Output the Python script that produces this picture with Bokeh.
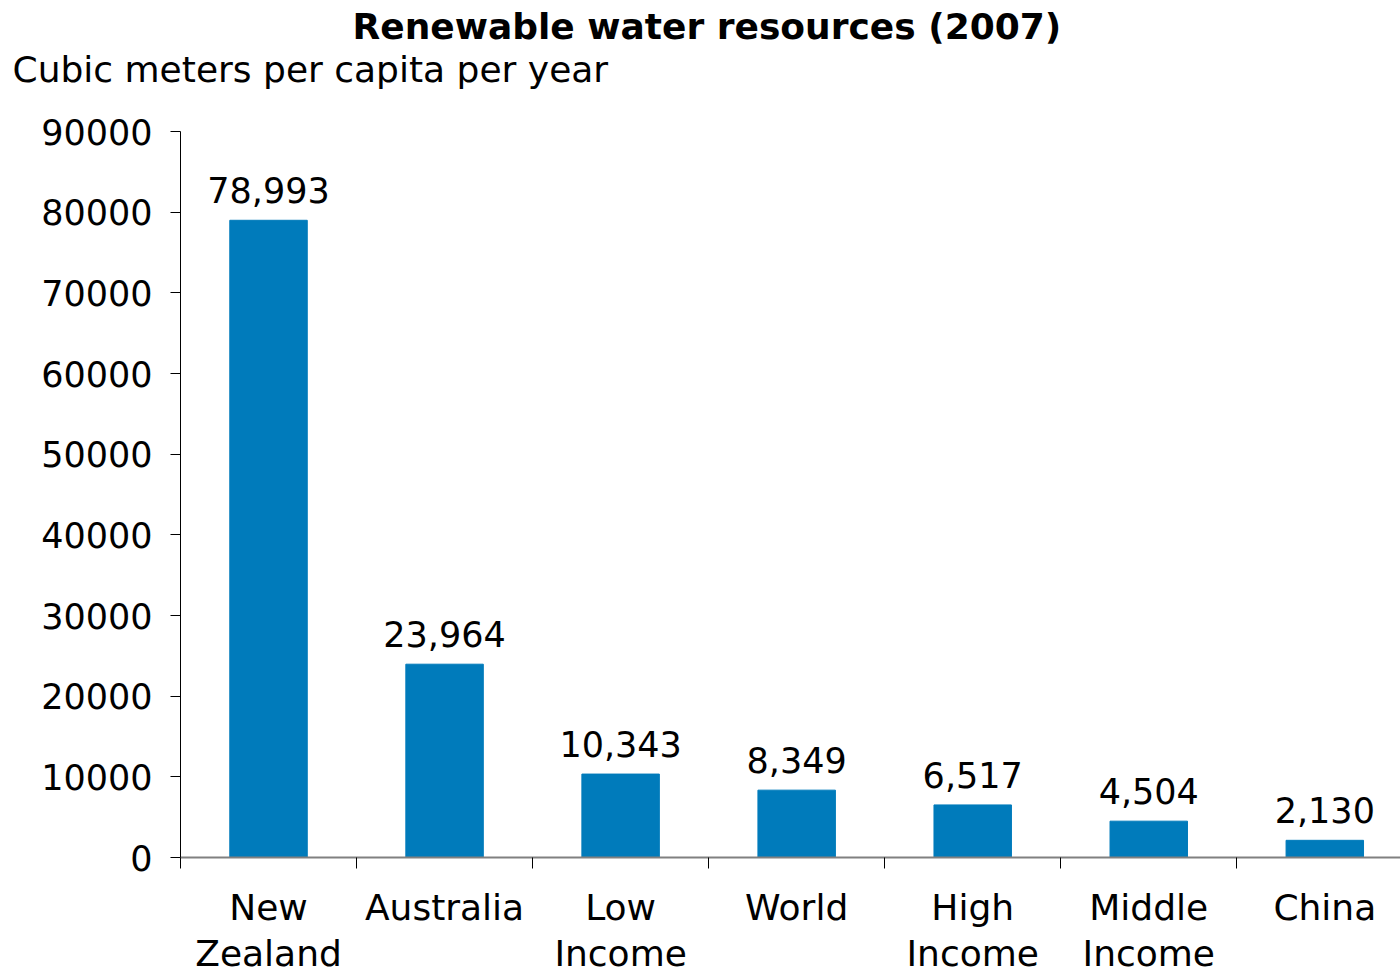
from bokeh.plotting import figure
from bokeh.models import Range1d, FixedTicker, LinearAxis, Title, ColumnDataSource, BasicTickFormatter
from bokeh.core.properties import value
from bokeh.embed import file_html
from bokeh.resources import INLINE

title_text = "Renewable water resources (2007)"
subtitle_text = "Cubic meters per capita per year"
categories_line1 = ["New", "Australia", "Low", "World", "High", "Middle", "China"]
categories_line2 = ["Zealand", " ", "Income", " ", "Income", "Income", " "]
values = [78993, 23964, 10343, 8349, 6517, 4504, 2130]
value_labels = ["78,993", "23,964", "10,343", "8,349", "6,517", "4,504", "2,130"]
y_ticks = [0, 10000, 20000, 30000, 40000, 50000, 60000, 70000, 80000, 90000]

FONT = "DejaVu Sans"
BLUE = "#007bbb"

n = len(values)
centers = [i + 0.5 for i in range(n)]
bounds = [float(i) for i in range(n + 1)]

src = ColumnDataSource(dict(x=centers, top=values, lab=value_labels))

p = figure(width=1400, height=976, output_backend="svg", toolbar_location=None,
           x_range=Range1d(0, 6.93), y_range=Range1d(0, 90000),
           min_border_left=180, min_border_right=0, min_border_top=131, min_border_bottom=119,
           title=None)
p.outline_line_color = None
p.xgrid.visible = False
p.ygrid.visible = False
p.background_fill_color = "white"
p.border_fill_color = "white"

p.vbar(x="x", top="top", width=0.44, color=BLUE, source=src)
p.text(x="x", y="top", text="lab", source=src, text_align="center", text_baseline="bottom",
       y_offset=-17, text_font=value(FONT), text_font_size="35px", text_color="black")

# y axis
ya = p.yaxis[0]
ya.ticker = FixedTicker(ticks=y_ticks)
ya.formatter = BasicTickFormatter(use_scientific=False)
ya.major_label_text_font = FONT
ya.major_label_text_font_size = "35px"
ya.major_label_text_color = "black"
ya.axis_line_color = "black"
ya.axis_line_width = 1
ya.major_tick_line_color = "black"
ya.major_tick_out = 10
ya.major_tick_in = 0
ya.minor_tick_line_color = None
ya.major_label_standoff = 18

# x axis (first line of category labels + boundary ticks)
xa = p.xaxis[0]
xa.ticker = FixedTicker(ticks=centers, minor_ticks=bounds)
xa.major_label_overrides = {c: t for c, t in zip(centers, categories_line1)}
xa.major_label_text_font = FONT
xa.major_label_text_font_size = "36px"
xa.major_label_text_color = "black"
xa.axis_line_color = "#808080"
xa.axis_line_width = 2
xa.major_tick_line_color = None
xa.major_tick_out = 10
xa.major_tick_in = 0
xa.minor_tick_line_color = "black"
xa.minor_tick_out = 11
xa.minor_tick_in = 0
xa.major_label_standoff = 18

# second line of category labels
xa2 = LinearAxis(ticker=FixedTicker(ticks=centers))
xa2.major_label_overrides = {c: t for c, t in zip(centers, categories_line2)}
xa2.major_label_text_font = FONT
xa2.major_label_text_font_size = "36px"
xa2.major_label_text_color = "black"
xa2.axis_line_color = None
xa2.major_tick_line_color = None
xa2.minor_tick_line_color = None
xa2.major_tick_out = 0
xa2.major_tick_in = 0
xa2.major_label_standoff = 2
p.add_layout(xa2, "below")

# spacer between frame and subtitle
spacer = Title(text=" ", text_font_size="1px", standoff=39, align="left")
p.add_layout(spacer, "above")
sub = Title(text=subtitle_text, align="left", text_font=FONT,
            text_font_size="36px", text_font_style="normal", text_color="black",
            offset=-168, standoff=0)
p.add_layout(sub, "above")
main = Title(text=title_text, align="left", text_font=FONT,
             text_font_size="36px", text_font_style="bold", text_color="black",
             offset=172, standoff=0)
p.add_layout(main, "above")

open("out.html", "w").write(file_html(p, INLINE))
